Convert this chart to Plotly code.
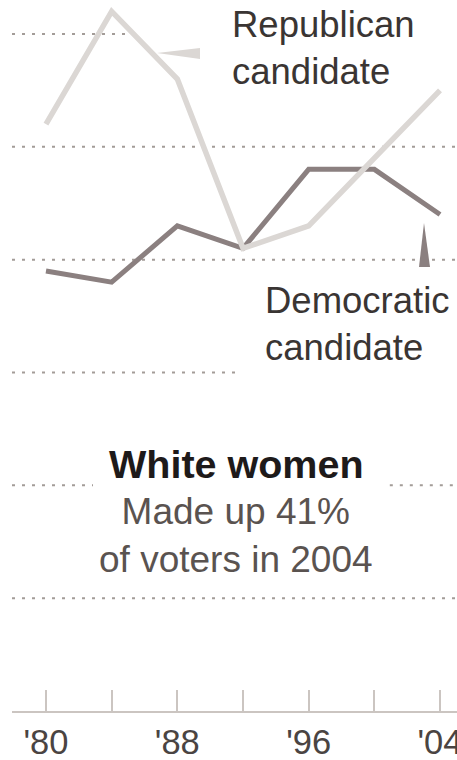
import plotly.graph_objects as go

years = [1980, 1984, 1988, 1992, 1996, 2000, 2004]
republican = [52, 62, 56, 41, 43, 49, 55]
democratic = [39, 38, 43, 41, 48, 48, 44]
tick_vals = [1980, 1984, 1988, 1992, 1996, 2000, 2004]
tick_text = ["'80", "", "'88", "", "'96", "", "'04"]
grid_vals = [10, 20, 30, 40, 50, 60]

W, H = 457, 760
L, R, T, B = 12, 0, 0, 49
PW, PH = W - L - R, H - T - B
XR = [1977.93, 2005.035]
YR = [0, 63.01]

LIGHT = "#dbd7d4"
DARK = "#8b8080"
GRID = "#a39c98"
FONT = "Liberation Sans, Arial, sans-serif"


def px_x(p):
    return XR[0] + (p - L) / PW * (XR[1] - XR[0])


def px_y(p):
    return YR[0] + (T + PH - p) / PH * (YR[1] - YR[0])


fig = go.Figure()
fig.add_trace(go.Scatter(x=years, y=democratic, mode="lines",
                         line=dict(color=DARK, width=5), hoverinfo="skip"))
fig.add_trace(go.Scatter(x=years, y=republican, mode="lines",
                         line=dict(color=LIGHT, width=5.5), hoverinfo="skip"))

# dotted gridline segments (interrupted by labels)
grid_spans = {
    10: [(0, 1)],
    20: [(0, 0.182), (0.849, 1)],
    30: [(0, 0.506)],
    40: [(0, 1)],
    50: [(0, 1)],
    60: [(0, 0.258)],
}
shapes = []
for g in grid_vals:
    for a, b in grid_spans[g]:
        shapes.append(dict(type="line", xref="paper", yref="y", x0=a, x1=b, y0=g, y1=g,
                           line=dict(color=GRID, width=2, dash="3px,7px"), layer="below"))

# pointer wedges
rx0, rx1 = px_x(157), px_x(200)
shapes.append(dict(type="path", xref="x", yref="y",
                   path=f"M {rx0},{px_y(53)} L {rx1},{px_y(48)} L {rx1},{px_y(59)} Z",
                   fillcolor=LIGHT, line=dict(width=0)))
dy0, dy1 = px_y(223), px_y(267)
shapes.append(dict(type="path", xref="x", yref="y",
                   path=f"M {px_x(424)},{dy0} L {px_x(419)},{dy1} L {px_x(430)},{dy1} Z",
                   fillcolor=DARK, line=dict(width=0)))

annotations = [
    dict(text="Republican<br>candidate", xref="paper", yref="paper",
         x=(230 - L) / PW, y=1 - 48 / PH, xanchor="left", yanchor="middle", align="left",
         showarrow=False, font=dict(family=FONT, size=36.5, color="#3a3533")),
    dict(text="Democratic<br>candidate", xref="paper", yref="paper",
         x=(263 - L) / PW, y=1 - 324 / PH, xanchor="left", yanchor="middle", align="left",
         showarrow=False, font=dict(family=FONT, size=36.5, color="#3a3533")),
    dict(text="<b>White women</b>", xref="paper", yref="paper",
         x=(236 - L) / PW, y=1 - 464 / PH, xanchor="center", yanchor="middle",
         showarrow=False, font=dict(family=FONT, size=39.5, color="#1e1a1a")),
    dict(text="Made up 41%<br>of voters in 2004", xref="paper", yref="paper",
         x=(236 - L) / PW, y=1 - 535 / PH, xanchor="center", yanchor="middle", align="center",
         showarrow=False, font=dict(family=FONT, size=37, color="#5a5350")),
]

fig.update_layout(
    width=W, height=H, margin=dict(l=L, r=R, t=T, b=B, pad=0, autoexpand=False),
    paper_bgcolor="white", plot_bgcolor="white", showlegend=False,
    shapes=shapes, annotations=annotations,
    xaxis=dict(range=XR, tickmode="array", tickvals=tick_vals, ticktext=tick_text,
               ticks="inside", ticklen=21, tickwidth=2, tickcolor="#cbc5c1",
               showline=True, linecolor="#cbc5c1", linewidth=2, showgrid=False,
               zeroline=False, tickfont=dict(family=FONT, size=34.5, color="#4a4442"),
               ticklabeloverflow="allow", automargin=False, fixedrange=True),
    yaxis=dict(range=YR, showgrid=False, showticklabels=False, zeroline=False,
               showline=False, automargin=False, fixedrange=True),
)
fig.write_html(
    "out.html",
    config={"displayModeBar": False},
    post_script="document.body.style.margin='0';document.body.style.overflow='hidden';",
)
